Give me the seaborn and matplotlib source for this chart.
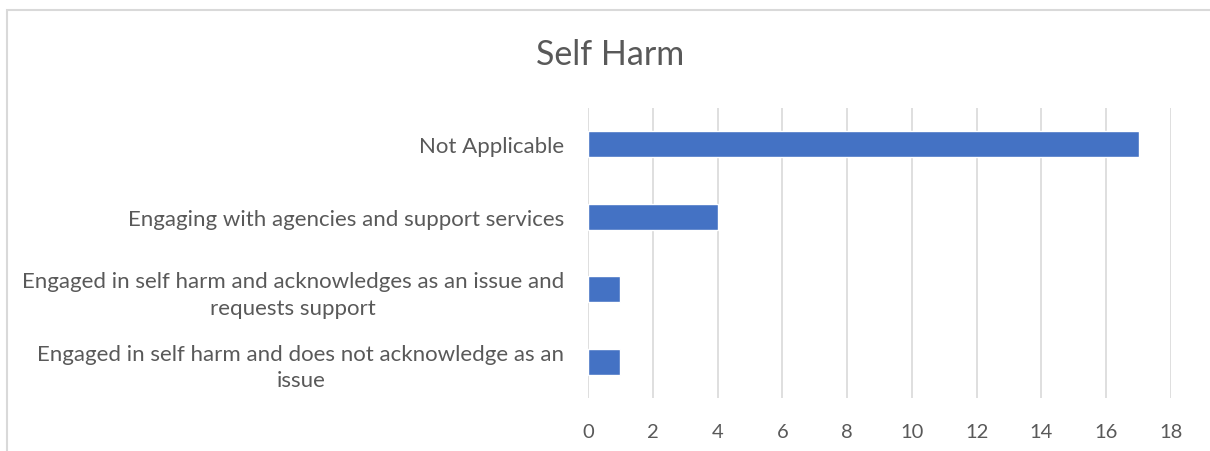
import matplotlib
matplotlib.use("Agg")
import matplotlib.pyplot as plt
import seaborn as sns
import pandas as pd
from matplotlib.patches import Rectangle

# data
categories = [
    "Not Applicable",
    "Engaging with agencies and support services",
    "Engaged in self harm and acknowledges as an issue and\nrequests support",
    "Engaged in self harm and does not acknowledge as an\nissue",
]
counts = [17, 4, 1, 1]
x_ticks = list(range(0, 19, 2))

df = pd.DataFrame({"category": categories, "count": counts})

sns.set_theme(style="white")
plt.rcParams["font.family"] = ["Lato", "DejaVu Sans"]

fig = plt.figure(figsize=(12.1, 4.52), dpi=100)
ax = fig.add_axes([588 / 1210, 1 - 399 / 452, (1171 - 588) / 1210, 290 / 452])

sns.barplot(data=df, y="category", x="count", color="#4472C4",
            orient="h", width=0.36, saturation=1, ax=ax, zorder=3)

ax.set_xlim(0, 18)
ax.set_xticks(x_ticks)
ax.set_xticklabels([str(t) for t in x_ticks], fontsize=14.5, color="#595959")
ax.grid(axis="x", color="#d9d9d9", linewidth=1.2, zorder=0)
for lbl in ax.get_yticklabels():
    lbl.set_fontsize(16)
    lbl.set_color("#595959")
    lbl.set_multialignment("center")
    lbl.set_linespacing(1.4)
ax.tick_params(axis="y", length=0, pad=17)
ax.tick_params(axis="x", length=0, pad=18)
ax.set_xlabel("")
ax.set_ylabel("")
for s in ax.spines.values():
    s.set_visible(False)

fig.suptitle("Self Harm", x=610 / 1210, y=1 - 55 / 452, va="center",
             fontsize=24.5, color="#595959")

# chart border
fig.patches.append(Rectangle((7 / 1210, -0.1), 1.2, 1.1 - 11 / 452,
                             transform=fig.transFigure, fill=False,
                             edgecolor="#d9d9d9", linewidth=1.5))

fig.savefig("out.png", dpi=100)
